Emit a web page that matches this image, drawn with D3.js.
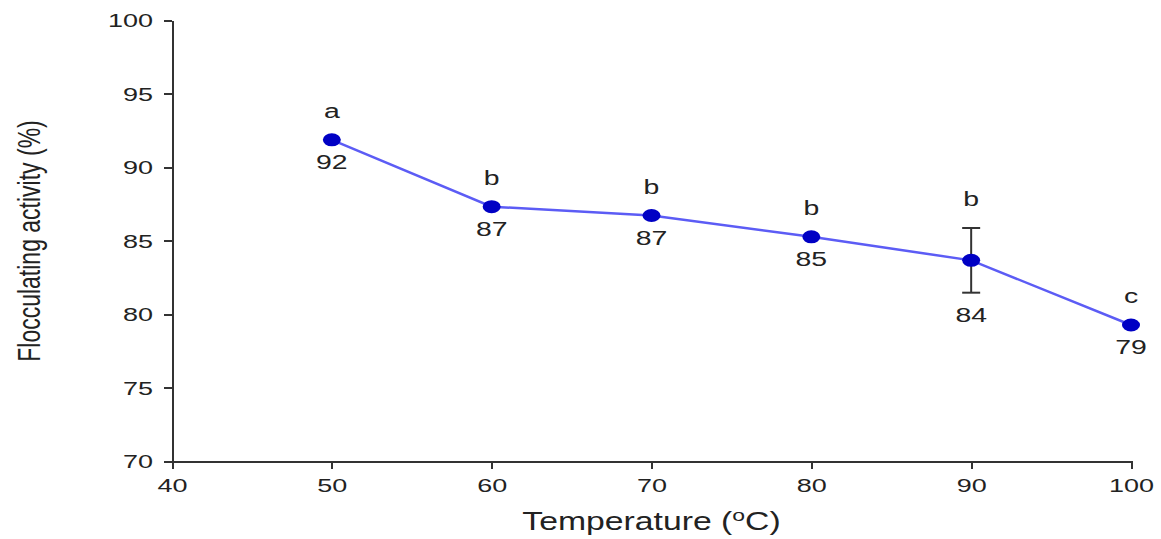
<!DOCTYPE html>
<html><head><meta charset="utf-8">
<script src="https://cdn.jsdelivr.net/npm/d3@7"></script>
<style>
html,body{margin:0;padding:0;background:#fff;}
text{font-family:"Liberation Sans",Arial,sans-serif;fill:#222;}
</style></head>
<body>
<svg id="chart" width="1161" height="539"></svg>
<script>
const temperatures = [50, 60, 70, 80, 90, 100];
const activity = [91.85, 87.3, 86.7, 85.25, 83.65, 79.25];
const errors = [0, 0, 0, 0, 2.2, 0];
const valueLabels = ["92", "87", "87", "85", "84", "79"];
const letters = ["a", "b", "b", "b", "b", "c"];
const xTicks = [40, 50, 60, 70, 80, 90, 100];
const yTicks = [70, 75, 80, 85, 90, 95, 100];

const SX = 1.42;
const svg = d3.select("#chart");
const x = d3.scaleLinear().domain([40, 100]).range([172, 1131]);
const y = d3.scaleLinear().domain([70, 100]).range([461, 20]);

// axes
const yAxis = svg.append("g").attr("transform", "translate(172,0)")
  .call(d3.axisLeft(y).tickValues(yTicks).tickSize(8).tickSizeOuter(0));
const xAxis = svg.append("g").attr("transform", "translate(0,461)")
  .call(d3.axisBottom(x).tickValues(xTicks).tickSize(8).tickSizeOuter(0));
[yAxis, xAxis].forEach(g => {
  g.select(".domain").attr("stroke", "#333").attr("stroke-width", 2);
  g.selectAll(".tick line").attr("stroke", "#333").attr("stroke-width", 2);
});
yAxis.selectAll(".tick text")
  .attr("x", 0).attr("dy", "0.35em")
  .attr("transform", `translate(-19,0) scale(${SX},1)`)
  .style("font-size", "19px").style("font-family", '"Liberation Sans",Arial,sans-serif').attr("fill", "#222");
xAxis.selectAll(".tick text")
  .attr("y", 0).attr("dy", 0)
  .attr("transform", `translate(0,31) scale(${SX},1)`)
  .style("font-size", "19px").style("font-family", '"Liberation Sans",Arial,sans-serif').attr("fill", "#222");
svg.selectAll(".domain, .tick line").attr("shape-rendering", "crispEdges");

// axis titles
svg.append("text")
  .attr("transform", `translate(651.5,530) scale(1.35,1)`)
  .attr("text-anchor", "middle").style("font-size", "25px")
  .call(t => {
    t.append("tspan").text("Temperature (");
    t.append("tspan").attr("dy", -9).style("font-size", "17px").text("o");
    t.append("tspan").attr("dy", 9).text("C)");
  });
svg.append("text")
  .attr("transform", `translate(40,241) scale(1.35,1) rotate(-90)`)
  .attr("text-anchor", "middle").style("font-size", "23px")
  .text("Flocculating activity (%)");

const data = temperatures.map((t, i) => ({t, v: activity[i], e: errors[i], lab: valueLabels[i], let: letters[i]}));

// line
svg.append("path").datum(data)
  .attr("fill", "none").attr("stroke", "#5c5cf5").attr("stroke-width", 2.5)
  .attr("d", d3.line().x(d => x(d.t)).y(d => y(d.v)));

// error bars
const eb = svg.append("g").attr("stroke", "#333").attr("stroke-width", 2);
data.filter(d => d.e > 0).forEach(d => {
  const cx = x(d.t);
  eb.append("line").attr("x1", cx).attr("x2", cx).attr("y1", y(d.v + d.e)).attr("y2", y(d.v - d.e));
  eb.append("line").attr("x1", cx - 9).attr("x2", cx + 9).attr("y1", y(d.v + d.e)).attr("y2", y(d.v + d.e));
  eb.append("line").attr("x1", cx - 9).attr("x2", cx + 9).attr("y1", y(d.v - d.e)).attr("y2", y(d.v - d.e));
});

// markers
svg.append("g").selectAll("ellipse").data(data).join("ellipse")
  .attr("cx", d => x(d.t)).attr("cy", d => y(d.v))
  .attr("rx", 9).attr("ry", 6.5).attr("fill", "#0000c4");

// letters
svg.append("g").selectAll("text").data(data).join("text")
  .attr("transform", d => `translate(${x(d.t)},${y(d.v + d.e) - 22}) scale(${SX},1)`)
  .attr("text-anchor", "middle").style("font-size", "20px")
  .text(d => d.let);

// value labels
svg.append("g").selectAll("text").data(data).join("text")
  .attr("transform", d => `translate(${x(d.t)},${y(d.v - d.e) + 29}) scale(${SX},1)`)
  .attr("text-anchor", "middle").style("font-size", "20px")
  .text(d => d.lab);
</script>
</body></html>
